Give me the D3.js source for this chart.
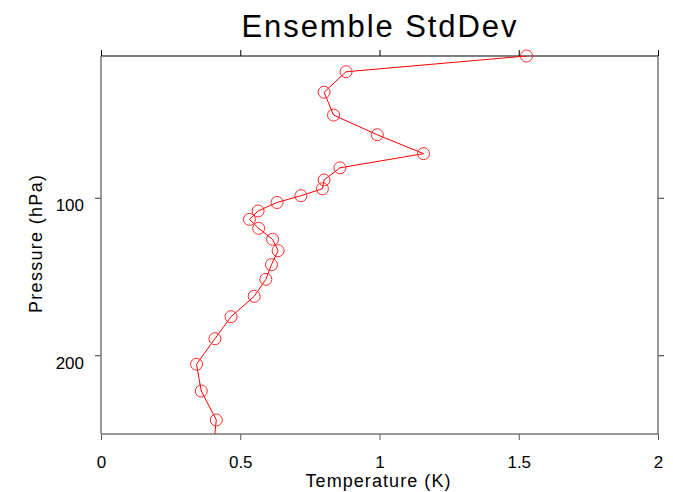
<!DOCTYPE html>
<html>
<head>
<meta charset="utf-8">
<script src="https://cdn.jsdelivr.net/npm/d3@7"></script>
<style>
  body { margin: 0; background: #fff; }
  svg { display: block; }
  text { font-family: "Liberation Sans", Arial, sans-serif; }
</style>
</head>
<body>
<svg width="673" height="492"></svg>
<script>
// ensemble spread profile: temperature std dev (K) at each pressure level (hPa)
var pressure = [10, 20, 33, 47.5, 60, 72, 81, 88.7, 94.3, 98.7, 103, 108.4, 113.7, 119.4,
                126.4, 133.6, 142.5, 151.8, 162.6, 175.5, 189.5, 205.7, 222.7, 241.1, 259];
var stddev = [1.528, 0.880, 0.801, 0.835, 0.992, 1.158, 0.858, 0.801, 0.795, 0.718, 0.632,
              0.564, 0.533, 0.566, 0.616, 0.636, 0.612, 0.592, 0.550, 0.467, 0.409, 0.343,
              0.360, 0.414, 0.403];
var xTicks = [0, 0.5, 1, 1.5, 2];
var yTicks = [100, 200];

var W = 673, H = 492;
var pLeft = 101, pRight = 658, pTop = 56, pBottom = 434;

var svg = d3.select("svg");

var x = d3.scaleLinear().domain([0, 2]).range([pLeft, pRight]);
var y = d3.scaleLinear().domain([10, 250]).range([pTop, pBottom]);

var pts = pressure.map(function(p, i){ return {p: p, v: stddev[i]}; });

svg.append("clipPath").attr("id", "clip")
  .append("rect")
  .attr("x", pLeft).attr("y", pTop)
  .attr("width", pRight - pLeft).attr("height", pBottom - pTop);

// axes
function styleAxis(g, col){
  g.select(".domain").remove();
  g.selectAll(".tick line").attr("stroke", col).attr("stroke-width", 1);
  g.selectAll(".tick text")
    .attr("fill", "#000")
    .style("font-size", "17px")
    .style("font-family", "Liberation Sans, Arial, sans-serif");
}

var gb = svg.append("g").attr("transform", "translate(0," + pBottom + ")")
  .call(d3.axisBottom(x).tickValues(xTicks).tickSize(6).tickPadding(16)
    .tickFormat(function(d){ return String(d); }));
styleAxis(gb, "#555");

var gt = svg.append("g").attr("transform", "translate(0," + pTop + ")")
  .call(d3.axisTop(x).tickValues(xTicks).tickSize(6).tickFormat(""));
styleAxis(gt, "#000");

var gl = svg.append("g").attr("transform", "translate(" + pLeft + ",0)")
  .call(d3.axisLeft(y).tickValues(yTicks).tickSize(6).tickPadding(10));
styleAxis(gl, "#333");
gl.selectAll(".tick text").attr("dy", "0.75em").attr("dx", "-1");

var gr = svg.append("g").attr("transform", "translate(" + pRight + ",0)")
  .call(d3.axisRight(y).tickValues(yTicks).tickSize(6).tickFormat(""));
styleAxis(gr, "#333");

// frame
svg.append("line").attr("x1", pLeft).attr("x2", pRight).attr("y1", pTop).attr("y2", pTop)
  .attr("stroke", "#000").attr("stroke-width", 1.2);
svg.append("line").attr("x1", pLeft).attr("x2", pRight).attr("y1", pBottom).attr("y2", pBottom)
  .attr("stroke", "#777").attr("stroke-width", 1.5);
svg.append("line").attr("x1", pLeft).attr("x2", pLeft).attr("y1", pTop).attr("y2", pBottom)
  .attr("stroke", "#777").attr("stroke-width", 1.5);
svg.append("line").attr("x1", pRight).attr("x2", pRight).attr("y1", pTop).attr("y2", pBottom)
  .attr("stroke", "#777").attr("stroke-width", 1.5);

// profile line
var line = d3.line().x(function(d){ return x(d.v); }).y(function(d){ return y(d.p); });
svg.append("path")
  .datum(pts)
  .attr("clip-path", "url(#clip)")
  .attr("d", line)
  .attr("fill", "none")
  .attr("stroke", "#ff0000")
  .attr("stroke-width", 1);

svg.selectAll(".mark")
  .data(pts.filter(function(d){ return d.p <= 250; }))
  .enter().append("circle")
  .attr("class", "mark")
  .attr("cx", function(d){ return x(d.v); })
  .attr("cy", function(d){ return y(d.p); })
  .attr("r", 6)
  .attr("fill", "none")
  .attr("stroke", "#ff2a2a")
  .attr("stroke-width", 1);

// titles
svg.append("text")
  .attr("x", (pLeft + pRight) / 2 - 0.5).attr("y", 37)
  .attr("text-anchor", "middle")
  .attr("textLength", 275).attr("lengthAdjust", "spacing")
  .style("font-size", "31px")
  .text("Ensemble StdDev");

svg.append("text")
  .attr("x", 378).attr("y", 487)
  .attr("text-anchor", "middle")
  .attr("textLength", 145).attr("lengthAdjust", "spacing")
  .style("font-size", "18px")
  .text("Temperature (K)");

svg.append("text")
  .attr("transform", "translate(42,244) rotate(-90)")
  .attr("text-anchor", "middle")
  .attr("textLength", 138).attr("lengthAdjust", "spacing")
  .style("font-size", "18px")
  .text("Pressure (hPa)");
</script>
</body>
</html>
